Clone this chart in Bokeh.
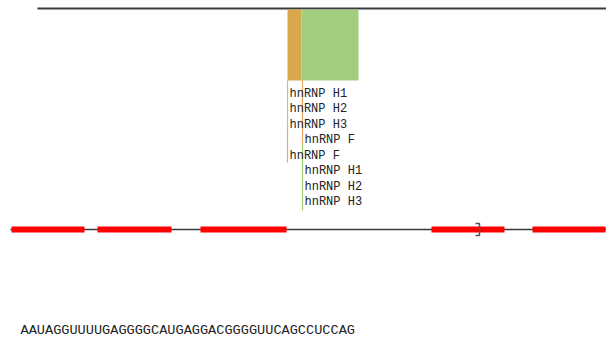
from bokeh.plotting import figure
from bokeh.models import Range1d, ColumnDataSource
from bokeh.embed import file_html
from bokeh.resources import INLINE
from bokeh.core.properties import value

# Gene model (positions in drawing units along the transcript)
gene_start, gene_end = 10, 606
exon_starts = [11, 97, 200, 431, 532]
exon_ends = [84, 171, 286, 504, 605]

# Top track line
track_start, track_end = 37, 606

# Motif boxes
motif_names = ["hnRNP F", "hnRNP H"]
motif_starts = [287, 301]
motif_ends = [301, 358]
motif_colors = ["#d8a84c", "#a2cd7e"]

# Motif labels
label_texts = ["hnRNP H1", "hnRNP H2", "hnRNP H3", "hnRNP F", "hnRNP F",
               "hnRNP H1", "hnRNP H2", "hnRNP H3"]
label_x = [287, 287, 287, 302, 287, 302, 302, 302]
label_row = [0, 1, 2, 3, 4, 5, 6, 7]

# Connector lines (x, last row, colour)
conn_x = [287, 302, 287, 302]
conn_y0 = [80, 80, 126, 143]
conn_y1 = [126, 143, 162, 210]
conn_colors = ["#a6d47a", "#f2a55a", "#f2a55a", "#9fd46a"]

# Bracket marker
bracket_x = 479
sequence = "AAUAGGUUUUGAGGGGCAUGAGGACGGGGUUCAGCCUCCAG"

W, H = 606, 337
p = figure(width=W, height=H, output_backend="svg", toolbar_location=None,
           x_range=Range1d(0, W), y_range=Range1d(H, 0), min_border=0)
p.axis.visible = False
p.grid.visible = False
p.outline_line_color = None
p.background_fill_color = "white"
p.border_fill_color = "white"

# top line
p.segment(x0=[track_start], y0=[8], x1=[track_end], y1=[8], line_color="#3a3a3a", line_width=2)

# motif boxes
p.quad(left=motif_starts, right=motif_ends, top=[9, 9], bottom=[80, 80],
       fill_color=motif_colors, line_color=None)

# connector lines
p.segment(x0=conn_x, y0=conn_y0, x1=conn_x, y1=conn_y1, line_color=conn_colors, line_width=1.2)

# labels
row_y = [93 + 15.5 * r for r in label_row]
p.text(x=[x + 2 for x in label_x], y=row_y, text=label_texts,
       text_font=value("Liberation Mono"), text_font_size="12px",
       text_baseline="middle", text_color="#222222")

# gene line
p.segment(x0=[gene_start], y0=[229], x1=[gene_end], y1=[229], line_color="#3a3a3a", line_width=1.5)
# exons
p.quad(left=exon_starts, right=exon_ends, top=[226] * 5, bottom=[232] * 5,
       fill_color="#ff0000", line_color=None)

# bracket
p.line(x=[bracket_x - 4, bracket_x, bracket_x, bracket_x - 4], y=[223, 223, 235, 235],
       line_color="#555555", line_width=1.5)

# sequence
p.text(x=[20], y=[330], text=[sequence], text_font=value("Liberation Mono"),
       text_font_size="13.6px", text_baseline="middle", text_color="#222222")

open("out.html", "w").write(file_html(p, INLINE))
